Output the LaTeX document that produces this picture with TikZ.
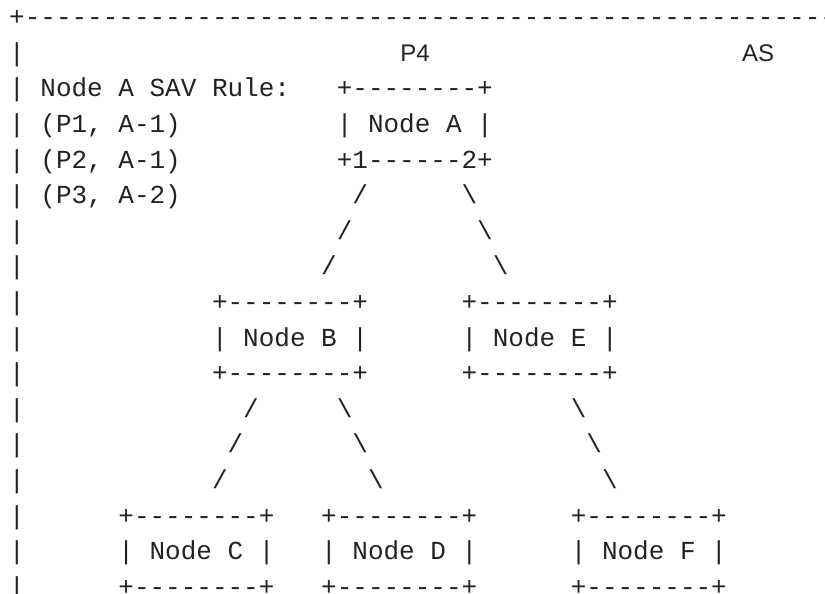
\documentclass[tikz,border=0pt]{standalone}
\usepackage{fontspec}
\setmonofont{Liberation Mono}
\newfontfamily\labelsans{Liberation Sans}
\definecolor{ink}{HTML}{222222}
\tikzset{
  mono/.style={anchor=base west, inner sep=0pt, outer sep=0pt, text=ink,
    font=\ttfamily\fontsize{26}{30}\selectfont},
  tag/.style={anchor=base, inner sep=0pt, outer sep=0pt, text=ink,
    font=\labelsans\fontsize{24}{28}\selectfont}
}
% place a monospace string with its first character in column #2 of row #3
\newcommand\gl[4]{\node[mono] (#1) at ({9.2pt+#2*15.6pt},{-(25.6pt+#3*35.6pt)}) {#4};}
\newcommand\bs{\textbackslash}
\begin{document}
\begin{tikzpicture}[x=1pt,y=1pt]
\useasboundingbox (0,0) rectangle (825,-594);
\clip (0,0) rectangle (825,-594);

% outer frame: top border and left edge
\gl{frame}{0}{0}{+-------------------------------------------------------}
\foreach \r in {1,...,16} { \gl{edge\r}{0}{\r}{|} }

% labels
\node[tag] (pfour) at (415,{-(25.6+35.6)}) {P4};
\node[tag] (as) at (758,{-(25.6+35.6)}) {AS};

% rule list
\gl{ruletitle}{2}{2}{Node A SAV Rule:}
\gl{ruleone}{2}{3}{(P1, A-1)}
\gl{ruletwo}{2}{4}{(P2, A-1)}
\gl{rulethree}{2}{5}{(P3, A-2)}

% Node A
\gl{atop}{21}{2}{+--------+}
\gl{a}{21}{3}{| Node A |}
\gl{abot}{21}{4}{+1------2+}

% links A-B and A-E
\gl{ab1}{22}{5}{/}
\gl{ab2}{21}{6}{/}
\gl{ab3}{20}{7}{/}
\gl{ae1}{29}{5}{\bs}
\gl{ae2}{30}{6}{\bs}
\gl{ae3}{31}{7}{\bs}

% Node B and Node E
\gl{btop}{13}{8}{+--------+}
\gl{b}{13}{9}{| Node B |}
\gl{bbot}{13}{10}{+--------+}
\gl{etop}{29}{8}{+--------+}
\gl{e}{29}{9}{| Node E |}
\gl{ebot}{29}{10}{+--------+}

% links B-C, B-D, E-F
\gl{bc1}{15}{11}{/}
\gl{bc2}{14}{12}{/}
\gl{bc3}{13}{13}{/}
\gl{bd1}{21}{11}{\bs}
\gl{bd2}{22}{12}{\bs}
\gl{bd3}{23}{13}{\bs}
\gl{ef1}{36}{11}{\bs}
\gl{ef2}{37}{12}{\bs}
\gl{ef3}{38}{13}{\bs}

% Nodes C, D, F
\gl{ctop}{7}{14}{+--------+}
\gl{c}{7}{15}{| Node C |}
\gl{cbot}{7}{16}{+--------+}
\gl{dtop}{20}{14}{+--------+}
\gl{d}{20}{15}{| Node D |}
\gl{dbot}{20}{16}{+--------+}
\gl{ftop}{36}{14}{+--------+}
\gl{f}{36}{15}{| Node F |}
\gl{fbot}{36}{16}{+--------+}
\end{tikzpicture}
\end{document}
